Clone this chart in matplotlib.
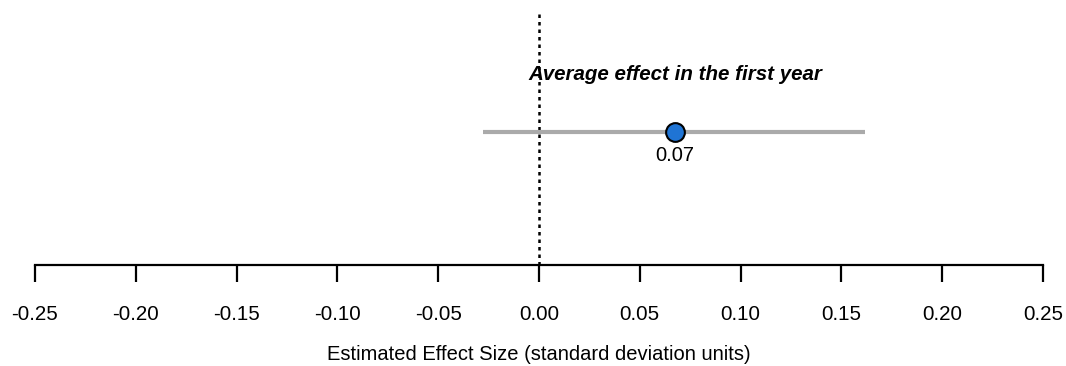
import matplotlib
matplotlib.use("Agg")
import matplotlib.pyplot as plt

plt.rcParams['font.family'] = ['Liberation Sans', 'DejaVu Sans']

estimate = 0.0675
ci_low = -0.028
ci_high = 0.1615
label = "Average effect in the first year"
est_text = "0.07"
ticks = [-0.25, -0.20, -0.15, -0.10, -0.05, 0.00, 0.05, 0.10, 0.15, 0.20, 0.25]
tick_labels = ["-0.25", "-0.20", "-0.15", "-0.10", "-0.05", "0.00", "0.05", "0.10", "0.15", "0.20", "0.25"]
xlabel = "Estimated Effect Size (standard deviation units)"

fig = plt.figure(figsize=(10.66, 3.66), dpi=100)
ax = fig.add_axes([35/1066, (366-265)/366, (1043-35)/1066, 265/366])
ax.set_xlim(-0.25, 0.25)
ax.set_ylim(0, 1)

ax.plot([0, 0], [0, 0.962], color='black', linestyle=(0, (1.4, 1.6)), linewidth=1.8, zorder=1)
ax.plot([ci_low, ci_high], [0.502, 0.502], color='#aaaaaa', linewidth=3, solid_capstyle='butt', zorder=2)
ax.plot([estimate], [0.502], marker='o', markersize=13.5, markerfacecolor='#1f74d4',
        markeredgecolor='black', markeredgewidth=1.5, zorder=3)
ax.text(estimate, 0.413, est_text, ha='center', va='center', fontsize=14.5)
ax.text(estimate, 0.72, label, ha='center', va='center', fontsize=14.8,
        fontweight='bold', fontstyle='italic')

for s in ['top', 'left', 'right']:
    ax.spines[s].set_visible(False)
ax.spines['bottom'].set_linewidth(1.6)
ax.set_yticks([])
ax.set_xticks(ticks)
ax.set_xticklabels(tick_labels, fontsize=14.8)
ax.tick_params(axis='x', length=12, width=1.6, pad=17)
ax.set_xlabel(xlabel, fontsize=14.5, labelpad=15)

fig.savefig("out.png", dpi=100)
